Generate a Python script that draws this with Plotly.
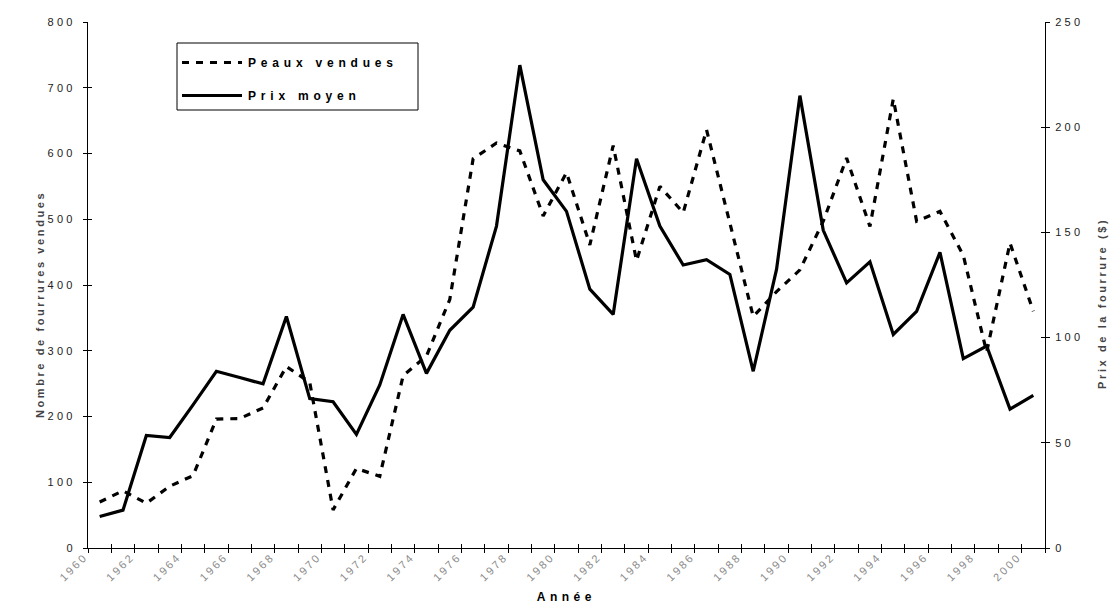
import plotly.graph_objects as go

# ---- data ----
years = list(range(1960, 2001))
peaux_vendues = [70, 87, 68, 94, 110, 196, 197, 213, 276, 252,
                 58, 121, 109, 262, 292, 378, 592, 616, 604, 505,
                 571, 461, 612, 437, 550, 510, 636, 495, 352, 390,
                 423, 497, 593, 489, 683, 497, 512, 445, 298, 464,
                 360]
prix_moyen = [15, 18, 53.5, 52.5, 68, 84, 81, 78, 110, 71,
              69.5, 54, 77.5, 111, 83, 103.5, 114.5, 153, 229.5, 175,
              160, 123, 111, 185, 153, 134.5, 137, 130, 84, 132.5,
              215, 151, 126, 136, 101.5, 112.5, 140.5, 90, 96, 66,
              72.5]
label_years = list(range(1960, 2001, 2))
label_text = [str(y) for y in label_years]
left_ticks = list(range(0, 801, 100))
right_ticks = list(range(0, 251, 50))

left_title = "Nombre de fourrures vendues"
right_title = "Prix de la fourrure ($)"
x_title = "Année"

boundaries = [years[0] - 0.5 + k for k in range(len(years) + 1)]
xr = [years[0] - 0.5, years[-1] + 0.5]

FONT = "Liberation Sans, Arial, sans-serif"
W, H = 1114, 609
ML, MR, MT, MB = 88, 69, 22, 61
PW, PH = W - ML - MR, H - MT - MB


def px_to_paper_x(px):
    return (px - ML) / PW


def px_to_paper_y(py):
    return (H - MB - py) / PH


fig = go.Figure()
fig.add_trace(go.Scatter(
    x=years, y=peaux_vendues, name="Peaux vendues", mode="lines",
    line=dict(color="black", width=3.2, dash="7px,7px"),
    legendgroup="a", yaxis="y"))
fig.add_trace(go.Scatter(
    x=years, y=prix_moyen, name="Prix moyen", mode="lines",
    line=dict(color="black", width=3.2),
    legendgroup="b", yaxis="y2"))
# empty helper traces so the overlay tick axes (inner half of the crossing ticks) are drawn
fig.add_trace(go.Scatter(x=[None], y=[None], xaxis="x2", yaxis="y3",
                         showlegend=False, hoverinfo="skip"))
fig.add_trace(go.Scatter(x=[None], y=[None], xaxis="x2", yaxis="y4",
                         showlegend=False, hoverinfo="skip"))

axis_common = dict(showgrid=False, zeroline=False, linecolor="black",
                   linewidth=1, tickcolor="black", tickwidth=1,
                   automargin=False)
overlay_common = dict(showticklabels=False, showline=False, showgrid=False,
                      zeroline=False, tickcolor="black", ticklen=4,
                      ticks="inside", tickmode="array", automargin=False)

title_font = dict(family=FONT, size=11, color="#444", weight="bold")

fig.update_layout(
    width=W, height=H,
    paper_bgcolor="white", plot_bgcolor="white",
    margin=dict(l=ML, r=MR, t=MT, b=MB, autoexpand=False),
    font=dict(family=FONT, color="black"),
    showlegend=True,
    legend=dict(x=px_to_paper_x(176), y=px_to_paper_y(48),
                xanchor="left", yanchor="top",
                bgcolor="rgba(0,0,0,0)", borderwidth=0,
                font=dict(family=FONT, size=12, color="black", weight="bold"),
                tracegroupgap=14, itemwidth=62),
    shapes=[dict(type="rect", xref="paper", yref="paper",
                 x0=px_to_paper_x(177), x1=px_to_paper_x(418),
                 y0=px_to_paper_y(110), y1=px_to_paper_y(43),
                 line=dict(color="black", width=1),
                 fillcolor="rgba(0,0,0,0)", layer="above")],
    annotations=[
        dict(text=left_title, xref="paper", yref="paper",
             x=px_to_paper_x(40), y=px_to_paper_y(305), textangle=-90,
             showarrow=False, xanchor="center", yanchor="middle",
             font=title_font),
        dict(text=right_title, xref="paper", yref="paper",
             x=px_to_paper_x(1102), y=px_to_paper_y(303), textangle=-90,
             showarrow=False, xanchor="center", yanchor="middle",
             font=title_font),
        dict(text=x_title, xref="paper", yref="paper",
             x=px_to_paper_x(566), y=px_to_paper_y(597),
             showarrow=False, xanchor="center", yanchor="middle",
             font=dict(family=FONT, size=12, color="black", weight="bold")),
    ],
    xaxis=dict(range=xr, tickmode="array", tickvals=label_years,
               ticktext=label_text, tickangle=-45, ticks="",
               showline=True, ticklabelshift=-15, ticklabelstandoff=-3,
               tickfont=dict(family=FONT, size=11, color="#8a8a8a"),
               minor=dict(tickmode="array", tickvals=boundaries,
                          ticks="outside", ticklen=4, tickcolor="black"),
               **axis_common),
    xaxis2=dict(range=xr, overlaying="x", anchor="y", side="bottom",
                tickvals=boundaries, **overlay_common),
    yaxis=dict(range=[0, 800], tickmode="array", tickvals=left_ticks,
               ticks="outside", ticklen=4, showline=True,
               ticklabelstandoff=5,
               tickfont=dict(family=FONT, size=11, color="#222"),
               **axis_common),
    yaxis2=dict(range=[0, 250], tickmode="array", tickvals=right_ticks,
                overlaying="y", side="right", anchor="x",
                ticks="outside", ticklen=4, showline=True,
                ticklabelstandoff=3,
                tickfont=dict(family=FONT, size=11, color="#222"),
                **axis_common),
    yaxis3=dict(range=[0, 800], overlaying="y", side="left", anchor="x2",
                tickvals=left_ticks, **overlay_common),
    yaxis4=dict(range=[0, 250], overlaying="y", side="right", anchor="x2",
                tickvals=right_ticks, **overlay_common),
)

# page without body margin; Excel-like wide character spacing; longer legend samples
post = """
document.body.style.margin = '0';
document.body.style.padding = '0';
var gd = document.getElementById('{plot_id}');
function sp(sel, v) {
  var els = gd.querySelectorAll(sel);
  for (var i = 0; i < els.length; i++) { els[i].style.letterSpacing = v; }
}
sp('.legendtext', '4.8px');
sp('.ytick text', '3.3px');
sp('.y2tick text', '3.3px');
sp('.xtick text', '2.5px');
var ann = gd.querySelectorAll('.annotation-text');
for (var j = 0; j < ann.length; j++) {
  var t = ann[j].textContent;
  ann[j].style.letterSpacing = (t === 'Année') ? '4.5px' : '2.6px';
}
var lines = gd.querySelectorAll('.legendlines path');
for (var k = 0; k < lines.length; k++) { lines[k].setAttribute('d', 'M6,0h60'); }
var sb = gd.querySelectorAll('.legend .scrollbox, .legend');
for (var m = 0; m < sb.length; m++) { sb[m].removeAttribute('clip-path'); }
"""

fig.write_html("out.html", post_script=post,
               config={"displayModeBar": False, "staticPlot": True})
